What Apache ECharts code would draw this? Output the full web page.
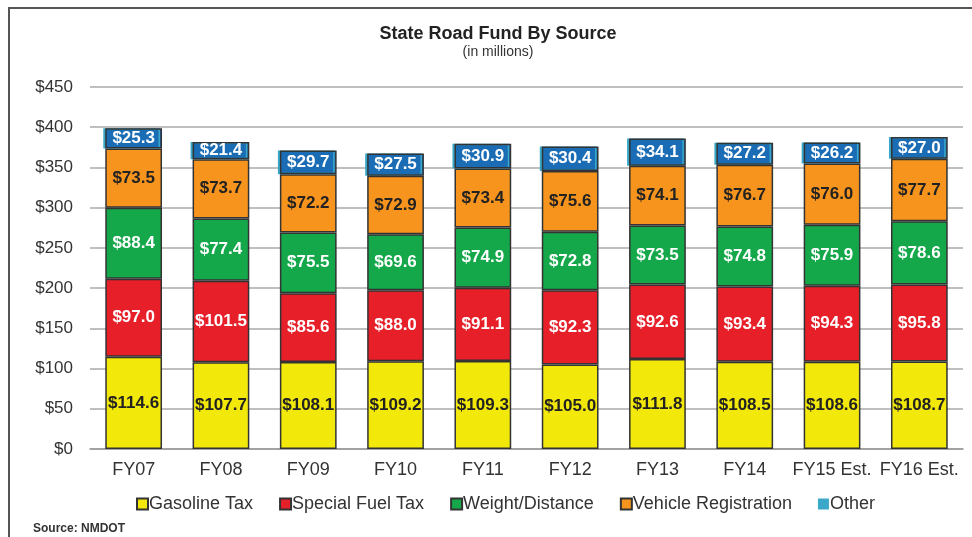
<!DOCTYPE html>
<html>
<head>
<meta charset="utf-8">
<script src="https://cdn.jsdelivr.net/npm/echarts@6/dist/echarts.min.js"></script>
<style>
html,body{margin:0;padding:0;background:#fff;}
#main{width:972px;height:537px;}
</style>
</head>
<body>
<div id="main"></div>
<script>
var years = ['FY07','FY08','FY09','FY10','FY11','FY12','FY13','FY14','FY15 Est.','FY16 Est.'];
var gasoline = [114.6,107.7,108.1,109.2,109.3,105.0,111.8,108.5,108.6,108.7];
var specialFuel = [97.0,101.5,85.6,88.0,91.1,92.3,92.6,93.4,94.3,95.8];
var weightDistance = [88.4,77.4,75.5,69.6,74.9,72.8,73.5,74.8,75.9,78.6];
var vehicleReg = [73.5,73.7,72.2,72.9,73.4,75.6,74.1,76.7,76.0,77.7];
var other = [25.3,21.4,29.7,27.5,30.9,30.4,34.1,27.2,26.2,27.0];

var font = 'Liberation Sans, Arial, sans-serif';
var chart = echarts.init(document.getElementById('main'));

function seriesOf(name, data, color, labelColor, extra) {
  var s = {
    name: name,
    type: 'bar',
    stack: 'total',
    barWidth: '65%',
    data: data,
    itemStyle: {color: color, borderColor: '#333', borderWidth: 1.5},
    label: {
      show: true,
      position: 'inside',
      formatter: function (p) { return '$' + p.value.toFixed(1); },
      color: labelColor,
      fontFamily: font,
      fontWeight: 'bold',
      fontSize: 17
    }
  };
  if (extra) { Object.assign(s.itemStyle, extra); }
  return s;
}

chart.setOption({
  animation: false,
  title: {
    text: 'State Road Fund By Source',
    subtext: '(in millions)',
    left: 493,
    textAlign: 'center',
    top: 20,
    itemGap: 2,
    textStyle: {fontFamily: font, fontWeight: 'bold', fontSize: 18, color: '#222'},
    subtextStyle: {fontFamily: font, fontSize: 14, color: '#333'}
  },
  legend: {
    top: 490,
    left: 131,
    itemWidth: 11,
    itemHeight: 11,
    itemGap: 26,
    icon: 'rect',
    textStyle: {fontFamily: font, fontSize: 18, color: '#333', padding: [0, 0, 0, -4]},
    data: [
      {name: 'Gasoline Tax'},
      {name: 'Special Fuel Tax'},
      {name: 'Weight/Distance'},
      {name: 'Vehicle Registration'},
      {name: 'Other', itemStyle: {color: '#3aa8c8', borderWidth: 0}}
    ]
  },
  grid: {left: 90, right: 9, top: 87, bottom: 88},
  xAxis: {
    type: 'category',
    data: years,
    axisLine: {lineStyle: {color: '#999', width: 1.5}},
    axisTick: {show: false},
    axisLabel: {interval: 0, fontFamily: font, fontSize: 18, color: '#333', margin: 12}
  },
  yAxis: {
    type: 'value',
    min: 0,
    max: 450,
    interval: 50,
    axisLabel: {
      fontFamily: font, fontSize: 17, color: '#333', margin: 17,
      formatter: function (v) { return '$' + v; }
    },
    splitLine: {lineStyle: {color: '#aaa', width: 1.5}}
  },
  graphic: [
    {type: 'rect', shape: {x: 9, y: 8, width: 1000, height: 600}, style: {fill: 'none', stroke: '#555', lineWidth: 2}, silent: true},
    {type: 'text', left: 33, top: 523, style: {text: 'Source: NMDOT', font: 'bold 12px ' + font, fill: '#333'}}
  ],
  series: [
    seriesOf('Gasoline Tax', gasoline, '#f2e80a', '#222'),
    seriesOf('Special Fuel Tax', specialFuel, '#e61f29', '#fff'),
    seriesOf('Weight/Distance', weightDistance, '#14a84b', '#fff'),
    seriesOf('Vehicle Registration', vehicleReg, '#f7941d', '#222'),
    seriesOf('Other', other, '#1a6cb5', '#fff', {shadowColor: '#3aa8c8', shadowOffsetX: -2, shadowBlur: 0})
  ]
});
</script>
</body>
</html>
